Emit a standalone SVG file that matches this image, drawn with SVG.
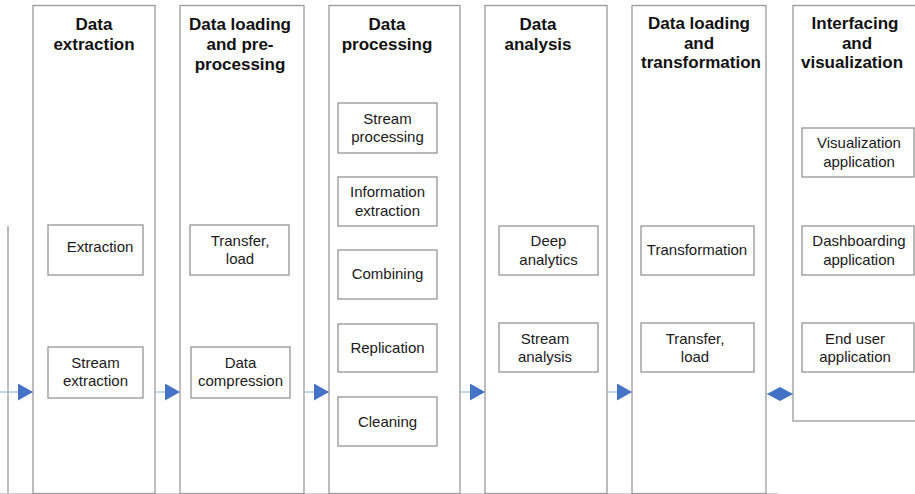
<svg xmlns="http://www.w3.org/2000/svg" width="915" height="494" viewBox="0 0 915 494">
  <defs>
    <style>
      .stage { fill: #ffffff; stroke: #9a9a9a; stroke-width: 1.3; }
      .box { fill: #ffffff; stroke: #8c8c8c; stroke-width: 1.2; }
      .title { font-family: "Liberation Sans", Arial, sans-serif; font-size: 17px; font-weight: bold; fill: #111111; text-anchor: middle; }
      .label { font-family: "Liberation Sans", Arial, sans-serif; font-size: 15px; fill: #1a1a1a; text-anchor: middle; }
      .flow { stroke: #8eaadb; stroke-width: 1; fill: none; }
      .edge { stroke: #9a9a9a; stroke-width: 1.3; fill: none; }
    </style>
    <marker id="head" viewBox="0 0 15 17" refX="15" refY="8.5" markerWidth="15" markerHeight="17" markerUnits="userSpaceOnUse" orient="auto">
      <path d="M0,0 L15,8.5 L0,17 Z" fill="#4472c4"/>
    </marker>
    <marker id="half" viewBox="0 0 13 14" refX="13" refY="7" markerWidth="13" markerHeight="14" markerUnits="userSpaceOnUse" orient="auto-start-reverse">
      <path d="M0,0 L13,7 L0,14 Z" fill="#4472c4"/>
    </marker>
  </defs>

  <!-- frame lines -->
  <line class="edge" x1="8" y1="226" x2="8" y2="494"/>
  <line x1="0" y1="493.5" x2="778" y2="493.5" stroke="#cfcfcf" stroke-width="1"/>

  <!-- stage 1 -->
  <g id="stage-extraction">
    <rect class="stage" x="33" y="5.5" width="122" height="488"/>
    <text class="title" x="94" y="30">Data</text>
    <text class="title" x="94" y="50">extraction</text>
    <rect class="box" x="48" y="225" width="95" height="50"/>
    <text class="label" x="100" y="252">Extraction</text>
    <rect class="box" x="48" y="347" width="95" height="51"/>
    <text class="label" x="95.5" y="368">Stream</text>
    <text class="label" x="95.5" y="386">extraction</text>
  </g>

  <!-- stage 2 -->
  <g id="stage-loading-preprocessing">
    <rect class="stage" x="180" y="5.5" width="124" height="488"/>
    <text class="title" x="240" y="30">Data loading</text>
    <text class="title" x="240" y="50">and pre-</text>
    <text class="title" x="240" y="70">processing</text>
    <rect class="box" x="190" y="225" width="99" height="50"/>
    <text class="label" x="240" y="246">Transfer,</text>
    <text class="label" x="240" y="264">load</text>
    <rect class="box" x="191" y="347" width="99" height="51"/>
    <text class="label" x="240.5" y="368">Data</text>
    <text class="label" x="240.5" y="386">compression</text>
  </g>

  <!-- stage 3 -->
  <g id="stage-processing">
    <rect class="stage" x="329" y="5.5" width="131" height="488"/>
    <text class="title" x="387" y="30">Data</text>
    <text class="title" x="387" y="50">processing</text>
    <rect class="box" x="338" y="103" width="99" height="50"/>
    <text class="label" x="387.5" y="123.5">Stream</text>
    <text class="label" x="387.5" y="142">processing</text>
    <rect class="box" x="338" y="177" width="99" height="49"/>
    <text class="label" x="387.5" y="197">Information</text>
    <text class="label" x="387.5" y="215.5">extraction</text>
    <rect class="box" x="338" y="250" width="99" height="49"/>
    <text class="label" x="387.5" y="279">Combining</text>
    <rect class="box" x="338" y="324" width="99" height="48"/>
    <text class="label" x="387.5" y="353">Replication</text>
    <rect class="box" x="338" y="397" width="99" height="49"/>
    <text class="label" x="387.5" y="426.5">Cleaning</text>
  </g>

  <!-- stage 4 -->
  <g id="stage-analysis">
    <rect class="stage" x="485" y="5.5" width="122" height="488"/>
    <text class="title" x="538" y="30">Data</text>
    <text class="title" x="538" y="50">analysis</text>
    <rect class="box" x="499" y="226" width="99" height="49"/>
    <text class="label" x="548.5" y="246">Deep</text>
    <text class="label" x="548.5" y="264.5">analytics</text>
    <rect class="box" x="499" y="323" width="99" height="49"/>
    <text class="label" x="545" y="343.5">Stream</text>
    <text class="label" x="545" y="362">analysis</text>
  </g>

  <!-- stage 5 -->
  <g id="stage-loading-transformation">
    <rect class="stage" x="632" y="5.5" width="134" height="488"/>
    <text class="title" x="699" y="29">Data loading</text>
    <text class="title" x="699" y="48.5">and</text>
    <text class="title" x="701" y="68">transformation</text>
    <rect class="box" x="641" y="226" width="113" height="49"/>
    <text class="label" x="697" y="255">Transformation</text>
    <rect class="box" x="641" y="323" width="113" height="49"/>
    <text class="label" x="695" y="343.5">Transfer,</text>
    <text class="label" x="695" y="362">load</text>
  </g>

  <!-- stage 6 -->
  <g id="stage-interfacing">
    <rect class="stage" x="793" y="5.5" width="126" height="415.5"/>
    <text class="title" x="855" y="29">Interfacing</text>
    <text class="title" x="857" y="48.5">and</text>
    <text class="title" x="852" y="68">visualization</text>
    <rect class="box" x="802" y="128" width="112" height="49"/>
    <text class="label" x="859" y="148">Visualization</text>
    <text class="label" x="859" y="166.5">application</text>
    <rect class="box" x="802" y="226" width="112" height="49"/>
    <text class="label" x="859" y="246">Dashboarding</text>
    <text class="label" x="859" y="264.5">application</text>
    <rect class="box" x="802" y="323" width="112" height="49"/>
    <text class="label" x="855" y="343.5">End user</text>
    <text class="label" x="855" y="362">application</text>
  </g>

  <!-- flow between stages -->
  <g id="connectors">
    <line class="flow" x1="0" y1="392" x2="33" y2="392" marker-end="url(#head)"/>
    <line class="flow" x1="155" y1="392" x2="180" y2="392" marker-end="url(#head)"/>
    <line class="flow" x1="304" y1="392" x2="329" y2="392" marker-end="url(#head)"/>
    <line class="flow" x1="460" y1="392" x2="485" y2="392" marker-end="url(#head)"/>
    <line class="flow" x1="607" y1="392" x2="632" y2="392" marker-end="url(#head)"/>
    <line class="flow" x1="767" y1="394" x2="793" y2="394" marker-start="url(#half)" marker-end="url(#half)"/>
  </g>
</svg>
